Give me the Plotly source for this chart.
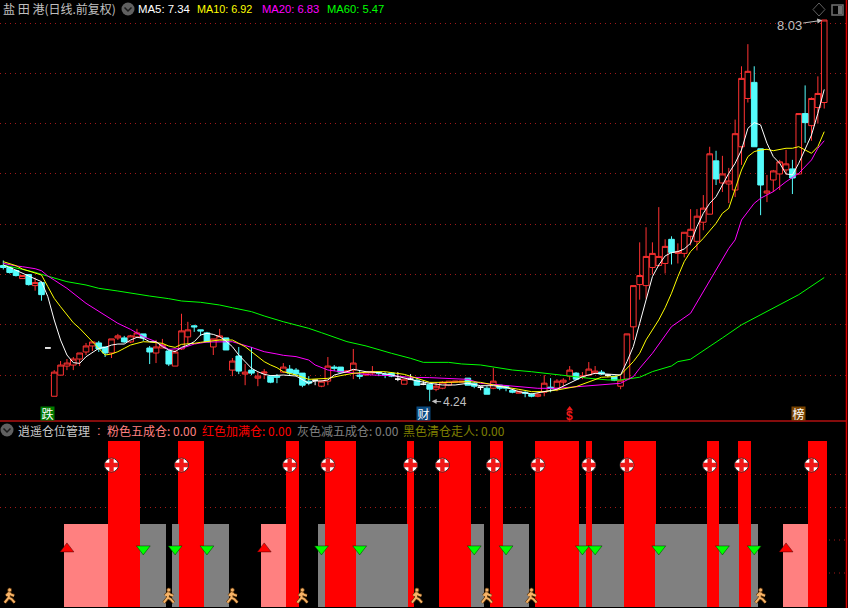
import plotly.graph_objects as go

W, H = 848, 608
# ---- daily prices ----
opens = [5.59,5.57,5.54,5.46,5.50,5.39,5.42,4.77,4.29,4.50,
4.59,4.60,4.66,4.73,4.79,4.82,4.78,4.72,4.87,4.87,
4.83,4.88,4.91,4.77,4.72,4.77,4.74,4.59,4.76,4.88,
4.99,4.95,4.92,4.78,4.85,4.87,4.55,4.69,4.51,4.55,
4.47,4.52,4.49,4.49,4.53,4.56,4.55,4.52,4.44,4.45,
4.39,4.44,4.58,4.58,4.53,4.55,4.50,4.50,4.52,4.53,
4.51,4.52,4.46,4.41,4.46,4.45,4.41,4.41,4.36,4.37,
4.40,4.43,4.43,4.47,4.42,4.38,4.37,4.37,4.40,4.39,
4.35,4.32,4.33,4.31,4.29,4.33,4.38,4.37,4.43,4.49,
4.52,4.48,4.50,4.52,4.53,4.50,4.49,4.39,4.46,4.98,
5.40,5.39,5.57,5.59,5.61,5.85,5.71,5.71,5.88,5.83,
6.02,6.10,6.63,6.41,6.40,6.34,6.77,7.25,7.41,6.75,
6.31,6.44,6.50,6.54,6.55,6.50,7.10,6.98,7.16,7.21]
highs = [5.64,5.58,5.55,5.49,5.50,5.47,5.43,4.77,4.55,4.64,
4.66,4.68,4.72,4.82,4.83,4.84,4.78,4.86,4.91,4.89,
4.90,4.96,4.91,4.79,4.85,4.86,4.75,4.75,5.11,5.03,
5.00,4.95,4.93,4.86,4.96,4.87,4.67,4.78,4.61,4.78,
4.53,4.56,4.50,4.51,4.62,4.60,4.57,4.52,4.49,4.45,
4.45,4.68,4.60,4.58,4.55,4.76,4.55,4.53,4.59,4.53,
4.53,4.53,4.53,4.46,4.51,4.48,4.44,4.42,4.43,4.44,
4.44,4.44,4.44,4.47,4.43,4.39,4.39,4.57,4.40,4.40,
4.36,4.34,4.34,4.32,4.32,4.50,4.47,4.46,4.47,4.59,
4.53,4.53,4.63,4.59,4.55,4.51,4.49,4.49,4.91,5.39,
5.82,5.97,5.82,6.17,5.85,5.88,5.81,5.92,6.15,6.15,
6.29,6.77,6.73,6.68,6.56,7.04,7.57,7.79,7.57,6.75,
6.49,6.54,6.64,6.74,6.64,7.10,7.38,7.26,7.47,8.03]
lows = [5.55,5.51,5.48,5.46,5.39,5.34,5.24,4.77,4.29,4.50,
4.55,4.55,4.59,4.70,4.74,4.73,4.68,4.67,4.85,4.82,
4.82,4.87,4.84,4.61,4.62,4.77,4.59,4.59,4.75,4.81,
4.93,4.89,4.83,4.70,4.85,4.75,4.49,4.51,4.40,4.50,
4.39,4.46,4.42,4.42,4.52,4.50,4.49,4.38,4.40,4.40,
4.38,4.40,4.54,4.53,4.53,4.46,4.46,4.50,4.50,4.49,
4.47,4.48,4.44,4.41,4.45,4.40,4.40,4.24,4.34,4.36,
4.39,4.43,4.43,4.40,4.37,4.35,4.31,4.36,4.35,4.34,
4.32,4.32,4.28,4.28,4.28,4.29,4.33,4.34,4.39,4.45,
4.45,4.46,4.49,4.51,4.50,4.48,4.44,4.36,4.45,4.85,
5.25,5.26,5.50,5.58,5.51,5.60,5.61,5.67,5.79,5.74,
5.94,6.10,6.39,6.32,6.21,6.27,6.59,7.21,6.77,6.09,
6.22,6.32,6.34,6.49,6.30,6.49,6.81,6.83,7.00,7.15]
closes = [5.57,5.52,5.49,5.49,5.40,5.42,5.30,4.77,4.53,4.60,
4.62,4.66,4.72,4.79,4.83,4.76,4.72,4.86,4.89,4.83,
4.89,4.92,4.87,4.73,4.78,4.80,4.61,4.73,4.94,4.95,
4.98,4.94,4.83,4.86,4.89,4.75,4.64,4.54,4.53,4.52,
4.49,4.53,4.43,4.48,4.58,4.52,4.51,4.40,4.42,4.45,
4.44,4.59,4.57,4.53,4.54,4.62,4.49,4.53,4.53,4.52,
4.50,4.49,4.46,4.46,4.46,4.40,4.41,4.36,4.39,4.43,
4.44,4.44,4.44,4.40,4.39,4.38,4.31,4.44,4.37,4.37,
4.33,4.34,4.32,4.29,4.31,4.42,4.37,4.44,4.45,4.55,
4.46,4.49,4.56,4.54,4.51,4.50,4.45,4.45,4.91,5.39,
5.49,5.68,5.71,5.68,5.78,5.72,5.73,5.92,5.95,6.08,
6.16,6.70,6.45,6.50,6.43,6.90,7.45,7.52,6.77,6.39,
6.33,6.53,6.62,6.60,6.46,7.10,7.01,7.25,7.30,8.03]

# ---- moving averages, read at the listed days ----
ma5_x = [0,1,4,6,7,8,9,10,11,12,13,14,15,16,17,18,19,20,21,22,23,24,25,26,27,28,29,30,31,32,33,34,35,36,37,38,39,40,41,42,43,
44,46,48,49,50,51,52,54,55,57,59,61,63,65,67,69,71,73,75,77,79,81,83,85,87,90,91,93,95,97,98,99,100,101,102,103,104,105,106,107,108,
109,110,111,112,113,114,115,116,117,118,119,120,121,122,123,124,125,126,127,128,129]
ma5_y = [5.595,5.571,5.485,5.429,5.280,5.048,4.849,4.700,4.624,4.617,4.683,4.723,4.766,4.776,4.799,4.809,4.809,4.849,4.876,4.866,4.832,4.832,4.783,4.750,4.733,4.776,4.799,4.832,4.899,4.915,4.905,4.882,4.839,4.783,4.700,4.634,4.568,4.534,4.508,4.495,4.495,
4.501,4.491,4.419,4.442,4.442,4.452,4.501,4.534,4.558,4.534,4.525,4.501,4.468,4.442,4.419,4.402,4.402,4.419,4.395,4.395,4.379,4.336,4.313,4.336,4.359,4.452,4.485,4.518,4.509,4.502,4.634,4.784,5.015,5.247,5.479,5.595,5.685,5.718,5.728,5.754,5.811,
5.976,6.109,6.208,6.274,6.390,6.506,6.606,6.738,6.953,7.010,6.987,6.805,6.672,6.606,6.500,6.490,6.606,6.738,6.887,7.103,7.340]
ma10_x = [0,1,2,3,4,5,6,7,8,9,10,11,12,13,14,15,16,17,18,19,20,21,22,23,24,25,26,27,28,29,30,31,33,34,36,37,38,39,40,41,42,43,
44,46,48,50,51,53,55,58,60,63,65,67,70,73,75,77,79,81,83,85,87,90,92,94,96,97,99,100,101,103,104,105,106,107,108,110,112,113,114,115,116,117,118,119,120,121,123,124,125,126,127,128,129]
ma10_y = [5.628,5.611,5.588,5.555,5.535,5.522,5.495,5.379,5.263,5.180,5.098,5.021,4.965,4.899,4.832,4.766,4.700,4.710,4.733,4.766,4.799,4.816,4.832,4.829,4.823,4.816,4.789,4.776,4.806,4.809,4.816,4.826,4.839,4.849,4.849,4.816,4.783,4.733,4.683,4.634,4.601,4.574,
4.534,4.501,4.458,4.462,4.468,4.495,4.518,4.534,4.534,4.508,4.468,4.428,4.428,4.435,4.428,4.402,4.379,4.359,4.336,4.336,4.352,4.386,4.436,4.479,4.485,4.502,4.634,4.717,4.850,5.049,5.170,5.314,5.479,5.628,5.728,5.860,6.009,6.109,6.158,6.341,6.539,6.672,6.722,6.738,6.745,6.731,6.755,6.755,6.771,6.738,6.705,6.771,6.920]
ma20_x = [0,1,2,3,4,5,6,7,8,10,13,15,18,20,22,24,26,28,30,32,34,36,39,41,43,
44,46,48,49,51,53,55,58,61,64,67,70,73,75,78,81,84,87,90,92,95,97,99,100,102,105,108,110,112,114,115,116,118,119,121,123,125,127,128,129]
ma20_y = [5.611,5.595,5.585,5.578,5.568,5.558,5.538,5.485,5.445,5.363,5.214,5.131,5.015,4.955,4.882,4.832,4.756,4.766,4.809,4.829,4.832,4.832,4.776,4.733,4.710,
4.697,4.684,4.650,4.601,4.551,4.534,4.518,4.501,4.495,4.478,4.475,4.468,4.458,4.419,4.402,4.392,4.369,4.369,4.386,4.393,4.409,4.419,4.485,4.568,4.717,4.982,5.115,5.330,5.550,5.760,5.844,6.042,6.208,6.258,6.324,6.423,6.506,6.639,6.755,6.830]
ma60_x = [0,3,5,6,8,10,13,15,18,20,23,26,28,31,34,36,39,41,43,
44,46,48,50,54,57,59,61,64,66,70,72,75,78,80,83,85,87,90,92,95,97,100,102,105,106,108,110,113,116,119,122,125,129]
ma60_y = [5.595,5.555,5.522,5.502,5.469,5.429,5.396,5.363,5.336,5.313,5.286,5.260,5.237,5.224,5.197,5.170,5.131,5.088,5.045,
5.031,4.998,4.965,4.922,4.833,4.790,4.750,4.717,4.667,4.627,4.627,4.611,4.601,4.568,4.551,4.534,4.518,4.508,4.485,4.469,4.452,4.452,4.479,4.535,4.591,4.634,4.658,4.740,4.870,5.000,5.100,5.200,5.300,5.470]

# ---- position management pane ----
pink_days = [10,11,12,13,14,15,16,41,42,43,44,123,124,125,126]
red_days = [17,18,19,20,21,28,29,30,31,45,46,51,52,53,54,55,64,69,70,71,72,73,77,78,84,85,86,87,88,89,90,92,98,99,100,101,102,111,112,116,117,127,128,129]
gray_days = [22,23,24,25,27,32,33,34,35,50,56,57,58,59,60,61,62,63,74,75,79,80,81,82,91,93,94,95,96,97,103,104,105,106,107,108,109,110,113,114,115,118]
half_level = 0.5
full_level = 1.0
buy_days = [10,41,123]
sell_days = [22,27,32,50,56,74,79,91,93,103,113,118]
add_days = [17,28,45,51,64,69,77,84,92,98,111,116,127]
walk_days = [1,26,36,47,65,76,83,119]
dollar_day = [89]
dollar_top = [4.163]

price_ticks = [4.5,5.0,5.5,6.0,6.5,7.0,7.5,8.0]
pos_ticks = [0.6,0.8]

RED, CYAN = "#FF3232", "#54FCFC"
GRID = "#A01818"
DOTS = "1px,4px"
days = list(range(len(opens)))
up = [i for i in days if closes[i] > opens[i]]
dn = [i for i in days if closes[i] < opens[i]]
dj = [i for i in days if closes[i] == opens[i]]

def px(x, y):
    return x / W, 1 - y / H

fig = go.Figure()
def candles(idx, line, fill):
    fig.add_trace(go.Candlestick(
        x=idx, open=[opens[i] for i in idx], high=[highs[i] for i in idx],
        low=[lows[i] for i in idx], close=[closes[i] for i in idx],
        increasing=dict(line=dict(color=line, width=1), fillcolor=fill),
        decreasing=dict(line=dict(color=line, width=1), fillcolor=fill),
        whiskerwidth=0, hoverinfo="skip", showlegend=False))
candles(up, RED, "#000000")
candles(dn, CYAN, CYAN)
candles(dj, "#FFFFFF", "#FFFFFF")

for xs, ys, c in [(ma60_x, ma60_y, "#00FF00"), (ma20_x, ma20_y, "#FF00FF"),
                  (ma10_x, ma10_y, "#FFFF00"), (ma5_x, ma5_y, "#FFFFFF")]:
    fig.add_trace(go.Scatter(x=xs, y=ys, mode="lines", line=dict(color=c, width=1),
                             hoverinfo="skip", showlegend=False))
fig.add_trace(go.Scatter(x=dollar_day, y=dollar_top, mode="markers",
                         marker=dict(symbol="triangle-up", size=6, color="#F01818", line=dict(width=0)),
                         hoverinfo="skip", showlegend=False))

def bars(idx, level, color, width):
    fig.add_trace(go.Bar(x=idx, y=[level] * len(idx), width=width, marker=dict(color=color, line=dict(width=0)),
                         xaxis="x2", yaxis="y2", hoverinfo="skip", showlegend=False))
bars(pink_days, half_level, "#FF8080", 1.0)
bars(red_days, full_level, "#FF0000", 1.0)
bars(gray_days, half_level, "#808080", 1.08)

def marks(idx, level, **kw):
    fig.add_trace(go.Scatter(x=idx, y=[level] * len(idx), mode="markers", marker=kw,
                             xaxis="x2", yaxis="y2", hoverinfo="skip", showlegend=False, cliponaxis=False))
marks(buy_days, 0.35, symbol="triangle-up", size=12, color="#FF0000", line=dict(color="#400000", width=0.5))
marks(sell_days, 0.35, symbol="triangle-down", size=12, color="#00FF00", line=dict(color="#003000", width=0.5))
marks(add_days, 0.855, symbol="circle", size=14, color="#FFFFFF", line=dict(color="#303030", width=1))
marks(add_days, 0.855, symbol="cross", size=11, color="#F01818", line=dict(width=0))

shapes = []
# borders
shapes.append(dict(type="line", xref="paper", yref="paper", x0=0, x1=px(846.5, 0)[0], y0=px(0, 421)[1], y1=px(0, 421)[1],
                   line=dict(color="#B01010", width=1.5)))
shapes.append(dict(type="line", xref="paper", yref="paper", x0=px(846.5, 0)[0], x1=px(846.5, 0)[0], y0=0, y1=1,
                   line=dict(color="#D80000", width=1.5)))
# short right-hand grid pieces in the lower pane
for yy in (540, 573):
    shapes.append(dict(type="line", xref="paper", yref="paper", x0=px(829, 0)[0], x1=px(846, 0)[0], y0=px(0, yy)[1], y1=px(0, yy)[1],
                       line=dict(color=GRID, width=1, dash=DOTS)))
# walkers
for d in walk_days:
    limbs = "M 4.5 0.5 L 1.5 1.5 L -0.5 3.5 L -1 -1.5 L -5 -6.5 M -1 -1.5 L 2 -3 L 5 -6.5 M -0.5 3.5 L -3.5 0.5"
    for c, lw in (("#5A3208", 3.4), ("#F7B468", 2)):
        shapes.append(dict(type="path", xref="x2", yref="y2", xsizemode="pixel", ysizemode="pixel",
                           xanchor=d, yanchor=0.065, path=limbs, line=dict(color=c, width=lw)))
    shapes.append(dict(type="circle", xref="x2", yref="y2", xsizemode="pixel", ysizemode="pixel",
                       xanchor=d, yanchor=0.065, x0=-2, x1=2, y0=4.2, y1=8.2,
                       fillcolor="#F7B468", line=dict(color="#5A3208", width=0.7)))
# chevron buttons
for cx, cy in ((128, 9), (7, 430)):
    x0, y0 = px(cx - 6.5, cy - 6.5); x1, y1 = px(cx + 6.5, cy + 6.5)
    shapes.append(dict(type="circle", xref="paper", yref="paper", x0=x0, x1=x1, y0=y0, y1=y1,
                       fillcolor="#606060", line=dict(width=0)))
    pts = [px(cx - 3.5, cy - 1.5), px(cx, cy + 2), px(cx + 3.5, cy - 1.5)]
    shapes.append(dict(type="path", xref="paper", yref="paper",
                       path="M %f %f L %f %f L %f %f" % (pts[0] + pts[1] + pts[2]),
                       line=dict(color="#1A1A1A", width=1.5)))
# top-right window icons
pts = [px(819, 3), px(825, 9.5), px(819, 16), px(813, 9.5)]
shapes.append(dict(type="path", xref="paper", yref="paper",
                   path="M %f %f L %f %f L %f %f L %f %f Z" % (pts[0] + pts[1] + pts[2] + pts[3]),
                   line=dict(color="#606060", width=1)))
x0, y0 = px(832, 5); x1, y1 = px(843, 15)
shapes.append(dict(type="rect", xref="paper", yref="paper", x0=x0, x1=x1, y0=y0, y1=y1, line=dict(color="#707070", width=1.5)))
x0, y0 = px(838, 6); x1, y1 = px(842, 14)
shapes.append(dict(type="rect", xref="paper", yref="paper", x0=x0, x1=x1, y0=y0, y1=y1, fillcolor="#707070", line=dict(width=0)))

CJK = "Noto Sans CJK SC"
ann = []
def label(x, y, text, color, size=12, anchor="left", family=CJK):
    xx, yy = px(x - 2, y)
    ann.append(dict(xref="paper", yref="paper", x=xx, y=yy, text=text, showarrow=False, xanchor=anchor,
                    yanchor="middle", font=dict(color=color, size=size, family=family)))
label(3, 9, "盐 田 港(日线.前复权)", "#C0C0C0", 12)
label(138, 9, "MA5: 7.34", "#FFFFFF", 11.4, family="Liberation Sans")
label(197, 9, "MA10: 6.92", "#FFFF00", 10.8, family="Liberation Sans")
label(262, 9, "MA20: 6.83", "#FF00FF", 11.2, family="Liberation Sans")
label(327, 9, "MA60: 5.47", "#00FF00", 11.2, family="Liberation Sans")
label(18, 430, "逍遥仓位管理", "#C8C8C8", 12)
label(97, 430, ":", "#FF8080", 13, family="Liberation Sans")
label(107, 430, "粉色五成仓: 0.00", "#FF8080", 12)
label(202, 430, "红色加满仓: 0.00", "#FF0000", 12)
label(297, 430, "灰色减五成仓: 0.00", "#808080", 12)
label(403, 430, "黑色清仓走人: 0.00", "#808000", 12)

def badge(day, text, bg, color="#FFFFFF"):
    ann.append(dict(xref="x", yref="paper", x=day, y=px(0, 413.5)[1], text=text, showarrow=False,
                    yanchor="middle", bgcolor=bg, width=13, height=13, borderpad=0,
                    font=dict(color=color, size=12, family=CJK)))
badge(7, "跌", "#007A00")
badge(66, "财", "#0A4A80")
badge(125, "榜", "#7A4400")
ann.append(dict(xref="x", yref="paper", x=89, y=px(0, 416)[1], text="<b>$</b>", showarrow=False, yanchor="middle",
                font=dict(color="#F01818", size=12, family="Liberation Sans")))

def callout(day, value, dx, dy, size):
    ann.append(dict(xref="x", yref="y", x=day, y=value, text="%.2f" % value, showarrow=True, ax=dx, ay=dy,
                    arrowhead=2, arrowsize=1, arrowwidth=1, arrowcolor="#C0C0C0", standoff=2,
                    font=dict(color="#C0C0C0", size=size, family="Liberation Sans")))
callout(129, 8.03, -35, 5, 13)
callout(67, 4.24, 25, 1, 12)

XR = [-0.5185, 132.42]
fig.update_layout(
    width=W, height=H, margin=dict(l=0, r=0, t=0, b=0), paper_bgcolor="#000000", plot_bgcolor="#000000",
    showlegend=False, barmode="overlay", bargap=0, bargroupgap=0, boxmode="overlay", boxgap=0.12, boxgroupgap=0,
    shapes=shapes, annotations=ann,
    xaxis=dict(domain=[0, 846 / W], range=XR, visible=False, rangeslider=dict(visible=False), fixedrange=True),
    yaxis=dict(domain=[1 - 421 / H, 1], range=[4.044, 8.229], showticklabels=False, ticks="", zeroline=False,
               tickmode="array", tickvals=price_ticks, showgrid=True, gridcolor=GRID, griddash=DOTS, gridwidth=1),
    xaxis2=dict(domain=[0, 846 / W], range=XR, visible=False, anchor="y2", fixedrange=True),
    yaxis2=dict(domain=[1 / H, 1 - 421 / H], range=[0, 1.1205], showticklabels=False, ticks="", zeroline=False, anchor="x2",
                tickmode="array", tickvals=pos_ticks, showgrid=True, gridcolor=GRID, griddash=DOTS, gridwidth=1),
)
fig.write_html("out.html", post_script="document.body.style.margin='0';document.body.style.background='#000';", config=dict(displayModeBar=False))
